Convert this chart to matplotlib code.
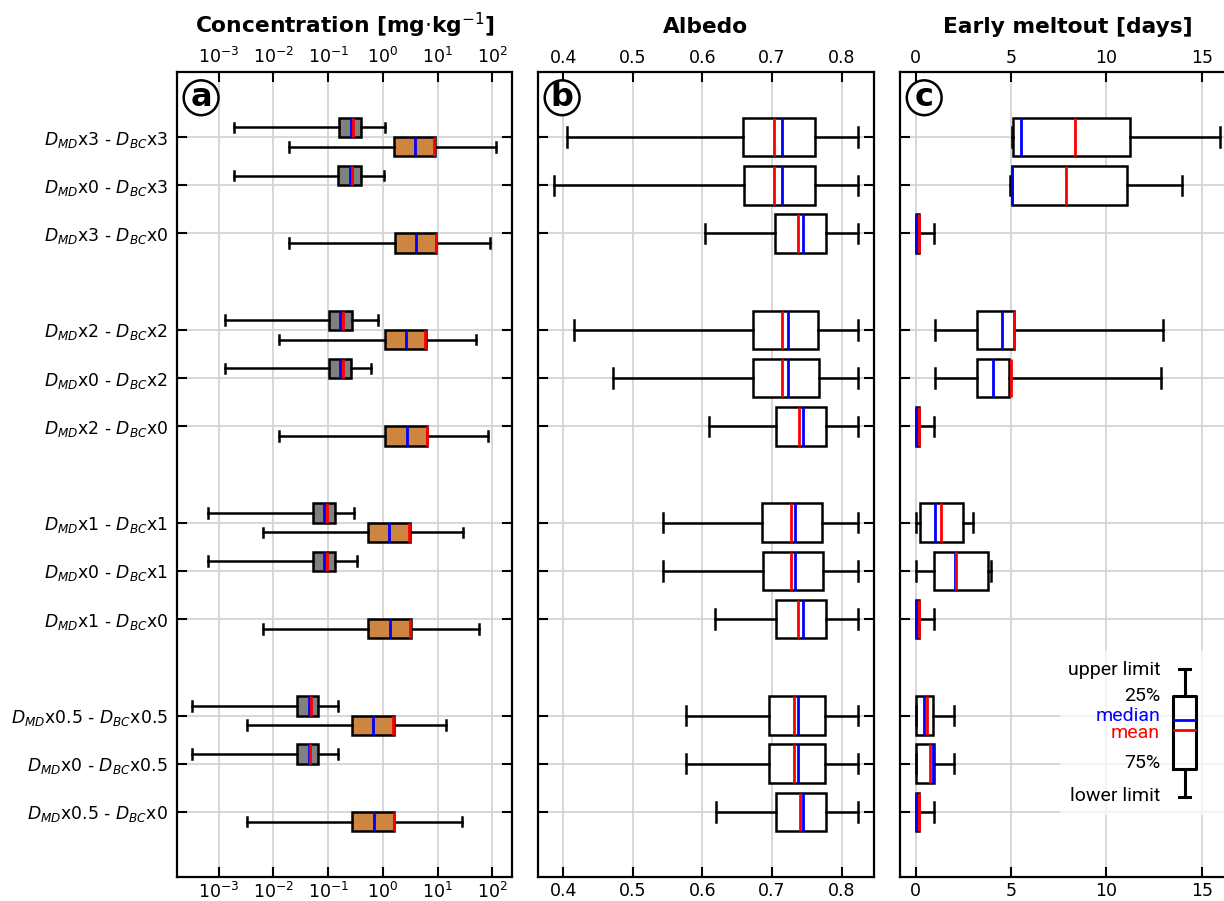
import matplotlib
matplotlib.use('Agg')
from matplotlib import pyplot as plt
from matplotlib.ticker import NullLocator
import numpy as np

# row labels, top to bottom
labels = [r'$D_{MD}$x3 - $D_{BC}$x3', r'$D_{MD}$x0 - $D_{BC}$x3', r'$D_{MD}$x3 - $D_{BC}$x0',
          r'$D_{MD}$x2 - $D_{BC}$x2', r'$D_{MD}$x0 - $D_{BC}$x2', r'$D_{MD}$x2 - $D_{BC}$x0',
          r'$D_{MD}$x1 - $D_{BC}$x1', r'$D_{MD}$x0 - $D_{BC}$x1', r'$D_{MD}$x1 - $D_{BC}$x0',
          r'$D_{MD}$x0.5 - $D_{BC}$x0.5', r'$D_{MD}$x0 - $D_{BC}$x0.5', r'$D_{MD}$x0.5 - $D_{BC}$x0']
rows = [1, 2, 3, 5, 6, 7, 9, 10, 11, 13, 14, 15]

# concentration of BC (grey) - rows that contain BC
bc_rows = [0, 1, 3, 4, 6, 7, 9, 10]
bc_whislo = [1.93e-3, 1.93e-3, 1.32e-3, 1.32e-3, 6.45e-4, 6.45e-4, 3.25e-4, 3.25e-4]
bc_q1 = [0.158, 0.154, 0.103, 0.104, 0.053, 0.053, 0.027, 0.0267]
bc_med = [0.259, 0.248, 0.167, 0.167, 0.085, 0.085, 0.0442, 0.0438]
bc_mean = [0.28, 0.277, 0.185, 0.185, 0.094, 0.094, 0.048, 0.0475]
bc_q3 = [0.40, 0.40, 0.27, 0.262, 0.132, 0.132, 0.0662, 0.066]
bc_whishi = [1.1, 1.07, 0.81, 0.617, 0.294, 0.342, 0.152, 0.152]

# concentration of mineral dust (orange)
md_rows = [0, 2, 3, 5, 6, 8, 9, 11]
md_whislo = [0.0193, 0.0193, 0.0128, 0.0128, 6.55e-3, 6.55e-3, 3.25e-3, 3.25e-3]
md_q1 = [1.62, 1.67, 1.10, 1.10, 0.536, 0.536, 0.274, 0.277]
md_med = [3.88, 4.1, 2.65, 2.77, 1.31, 1.36, 0.67, 0.676]
md_mean = [8.75, 9.4, 5.98, 6.34, 2.97, 3.14, 1.56, 1.57]
md_q3 = [9.0, 9.5, 6.25, 6.4, 3.1, 3.27, 1.6, 1.63]
md_whishi = [119, 90, 50.6, 83.8, 29.6, 58.2, 14.3, 27.7]

# albedo
alb_whislo = [0.406, 0.387, 0.603, 0.416, 0.472, 0.610, 0.543, 0.544, 0.618, 0.577, 0.577, 0.619]
alb_q1 = [0.658, 0.659, 0.704, 0.673, 0.673, 0.705, 0.685, 0.687, 0.706, 0.696, 0.696, 0.706]
alb_mean = [0.703, 0.703, 0.738, 0.715, 0.715, 0.739, 0.727, 0.727, 0.738, 0.732, 0.732, 0.740]
alb_med = [0.714, 0.714, 0.744, 0.723, 0.723, 0.744, 0.733, 0.733, 0.745, 0.738, 0.738, 0.745]
alb_q3 = [0.762, 0.762, 0.778, 0.766, 0.768, 0.778, 0.772, 0.773, 0.778, 0.776, 0.776, 0.778]
alb_whishi = [0.823] * 12

# early meltout [days]
mo_whislo = [5.05, 4.97, 0, 1.01, 1.01, 0, 0, 0, 0, 0, 0, 0]
mo_q1 = [5.1, 5.05, 0, 3.22, 3.22, 0, 0.23, 0.96, 0, 0, 0, 0]
mo_med = [5.53, 5.07, 0, 4.51, 4.04, 0, 1.0, 2.08, 0, 0.44, 0.89, 0]
mo_mean = [8.35, 7.86, 0.18, 5.16, 4.99, 0.18, 1.31, 2.13, 0.16, 0.61, 0.75, 0.16]
mo_q3 = [11.24, 11.08, 0.15, 5.14, 4.88, 0.15, 2.47, 3.82, 0.15, 0.91, 0.96, 0.15]
mo_whishi = [15.95, 13.95, 0.97, 12.99, 12.87, 0.97, 2.99, 3.96, 0.97, 2.0, 2.0, 0.97]


def stats(lo, q1, med, mean, q3, hi):
    return [dict(whislo=a, q1=b, med=c, mean=d, q3=e, whishi=f, fliers=[])
            for a, b, c, d, e, f in zip(lo, q1, med, mean, q3, hi)]


def draw(ax, st, pos, w, fc):
    ax.bxp(st, positions=pos, widths=w, orientation='horizontal', patch_artist=True,
           showmeans=True, meanline=True, showfliers=False,
           boxprops=dict(facecolor=fc, edgecolor='black', linewidth=1.8),
           whiskerprops=dict(color='black', linewidth=1.8),
           capprops=dict(color='black', linewidth=1.8),
           medianprops=dict(color='blue', linewidth=2, linestyle='-'),
           meanprops=dict(color='red', linewidth=2, linestyle='-'))


plt.rcParams['font.size'] = 12
fig = plt.figure(figsize=(12.24, 9.01), dpi=100)
axa = fig.add_axes([0.1446, 0.0266, 0.2737, 0.8935])
axb = fig.add_axes([0.4395, 0.0266, 0.2745, 0.8935])
axc = fig.add_axes([0.7353, 0.0266, 0.2745, 0.8935])

rows = np.array(rows)
draw(axa, stats(bc_whislo, bc_q1, bc_med, bc_mean, bc_q3, bc_whishi), rows[bc_rows] - 0.2, 0.4, 'grey')
draw(axa, stats(md_whislo, md_q1, md_med, md_mean, md_q3, md_whishi), rows[md_rows] + 0.2, 0.4, 'peru')
draw(axb, stats(alb_whislo, alb_q1, alb_med, alb_mean, alb_q3, alb_whishi), rows, 0.8, 'white')
draw(axc, stats(mo_whislo, mo_q1, mo_med, mo_mean, mo_q3, mo_whishi), rows, 0.8, 'white')

axa.set_xscale('log')
axa.set_xlim(1.73e-4, 229)
axa.xaxis.set_minor_locator(NullLocator())
axb.set_xlim(0.3636, 0.8464)
axb.set_xticks([0.4, 0.5, 0.6, 0.7, 0.8])
axc.set_xlim(-0.82, 16.8)
axc.set_xticks([0, 5, 10, 15])

titles = [r'Concentration [mg$\cdot$kg$^{-1}$]', 'Albedo', 'Early meltout [days]']
for ax, t, letter in zip([axa, axb, axc], titles, ['a', 'b', 'c']):
    ax.set_ylim(16.35, -0.35)
    ax.set_yticks(rows)
    ax.set_yticklabels(labels if ax is axa else [])
    ax.tick_params(axis='both', direction='in', length=7, width=1.5,
                   top=True, bottom=True, left=True, right=True,
                   labeltop=True, labelbottom=True)
    ax.tick_params(axis='x', labelsize=12.5)
    ax.tick_params(axis='y', labelsize=12.4, pad=6.5)
    ax.grid(True, color='#d4d4d4', linewidth=1.3)
    ax.set_axisbelow(True)
    for s in ax.spines.values():
        s.set_linewidth(1.6)
    ax.set_title(t, fontsize=15.7, fontweight='bold', pad=28)
    ax.text(0.072, 0.968, letter, transform=ax.transAxes, fontsize=23, fontweight='bold',
            ha='center', va='center',
            bbox=dict(boxstyle='circle,pad=0.06', fc='white', ec='black', lw=1.8))

# key for the box symbols
key = fig.add_axes([0.866, 0.0955, 0.134, 0.183])
key.axis('off')
key.add_patch(plt.Rectangle((0, 0), 1, 1, transform=key.transAxes, fc='white', ec='none',
                            alpha=0.7, zorder=0))
key_stats = [dict(whislo=0.109, q1=0.279, med=0.576, mean=0.515, q3=0.721, whishi=0.885, fliers=[])]
key.bxp(key_stats, positions=[0.76], widths=0.14, showmeans=True, meanline=True, showfliers=False,
        boxprops=dict(color='black', linewidth=2.2),
        whiskerprops=dict(color='black', linewidth=2.2),
        capprops=dict(color='black', linewidth=2.2),
        medianprops=dict(color='blue', linewidth=2, linestyle='-'),
        meanprops=dict(color='red', linewidth=2, linestyle='-'))
key.set_xlim(0, 1)
key.set_ylim(0, 1)
key_text = [('upper limit', 0.879, 'black'), ('25%', 0.721, 'black'), ('median', 0.6, 'blue'),
            ('mean', 0.5, 'red'), ('75%', 0.315, 'black'), ('lower limit', 0.115, 'black')]
for s, y, c in key_text:
    key.text(0.61, y, s, color=c, ha='right', va='center', fontsize=14, family='Roboto')

fig.savefig('out.png', dpi=100)
